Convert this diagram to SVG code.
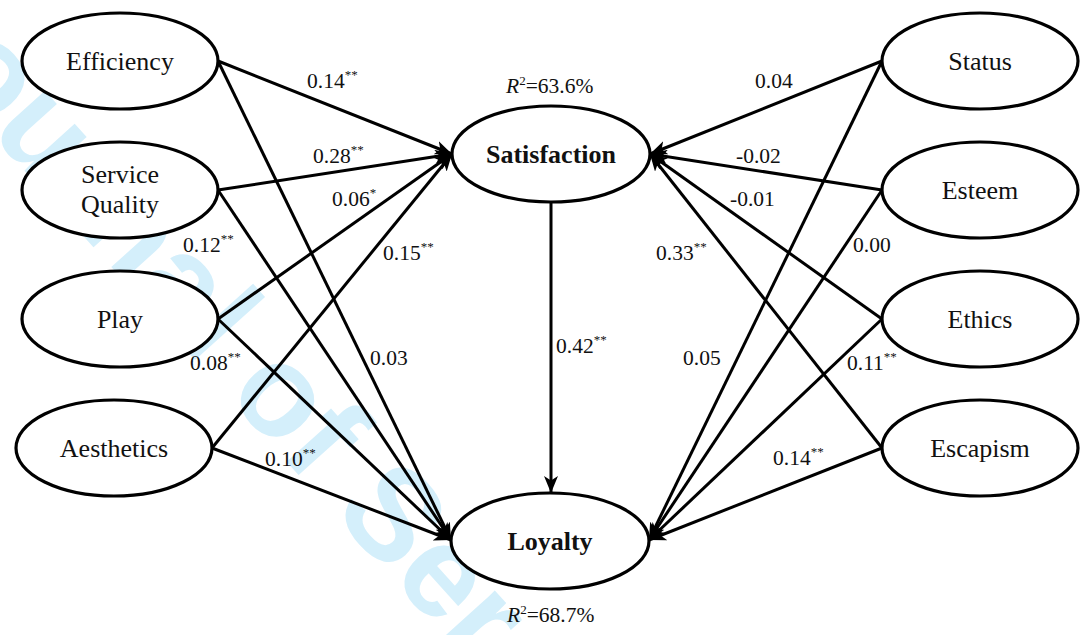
<svg xmlns="http://www.w3.org/2000/svg" width="1086" height="635" viewBox="0 0 1086 635">
<style>
.node ellipse{fill:#fff;stroke:#000;stroke-width:3.2}
.nt,.bt,.lb{font-family:"Liberation Serif","Times New Roman",serif;fill:#111}
.nt{font-size:26px;text-anchor:middle}
.bt{font-size:26px;font-weight:bold;text-anchor:middle}
.lb{font-size:21.5px}
.st{font-size:13px}
#edges line{stroke:#000;stroke-width:3;marker-end:url(#ah)}
.wm{font-family:"Liberation Sans",Arial,sans-serif;font-weight:bold;font-size:130px;fill:#d4effb}
</style>
<defs>
<marker id="ah" markerUnits="userSpaceOnUse" markerWidth="18" markerHeight="14" refX="17" refY="7" orient="auto">
<path d="M0,0 L17,7 L0,14 L4.5,7 Z" fill="#000"/>
</marker>
</defs>
<rect width="1086" height="635" fill="#fff"/>
<g id="watermark">
<text class="wm" x="-113" y="18" transform="rotate(48 -113 18)">Journal of Ser</text>
</g>
<g id="edges">
<line x1="218" y1="61" x2="452" y2="154"/>
<line x1="218" y1="190" x2="452" y2="154"/>
<line x1="218" y1="319" x2="452" y2="154"/>
<line x1="212" y1="448" x2="452" y2="154"/>
<line x1="218" y1="61" x2="451" y2="540"/>
<line x1="218" y1="190" x2="451" y2="540"/>
<line x1="218" y1="319" x2="451" y2="540"/>
<line x1="212" y1="448" x2="451" y2="540"/>
<line x1="882" y1="61" x2="650" y2="154"/>
<line x1="882" y1="190" x2="650" y2="154"/>
<line x1="882" y1="319" x2="650" y2="154"/>
<line x1="882" y1="448" x2="650" y2="154"/>
<line x1="882" y1="61" x2="649" y2="540"/>
<line x1="882" y1="190" x2="649" y2="540"/>
<line x1="882" y1="319" x2="649" y2="540"/>
<line x1="882" y1="448" x2="649" y2="540"/>
<line x1="551" y1="202" x2="551" y2="493"/>
</g>
<g id="efficiency" class="node"><ellipse cx="120" cy="61" rx="98" ry="48"/><text class="nt" x="120" y="70">Efficiency</text></g>
<g id="service-quality" class="node"><ellipse cx="120" cy="190" rx="98" ry="48"/><text class="nt" x="120" y="183">Service</text><text class="nt" x="120" y="213">Quality</text></g>
<g id="play" class="node"><ellipse cx="120" cy="319" rx="98" ry="48"/><text class="nt" x="120" y="328">Play</text></g>
<g id="aesthetics" class="node"><ellipse cx="114" cy="448" rx="98" ry="48"/><text class="nt" x="114" y="457">Aesthetics</text></g>
<g id="satisfaction" class="node"><ellipse cx="551" cy="154" rx="99" ry="48"/><text class="bt" x="551" y="163">Satisfaction</text></g>
<g id="loyalty" class="node"><ellipse cx="550" cy="541" rx="99" ry="48"/><text class="bt" x="550" y="550">Loyalty</text></g>
<g id="status" class="node"><ellipse cx="980" cy="61" rx="98" ry="48"/><text class="nt" x="980" y="70">Status</text></g>
<g id="esteem" class="node"><ellipse cx="980" cy="190" rx="98" ry="48"/><text class="nt" x="980" y="199">Esteem</text></g>
<g id="ethics" class="node"><ellipse cx="980" cy="319" rx="98" ry="48"/><text class="nt" x="980" y="328">Ethics</text></g>
<g id="escapism" class="node"><ellipse cx="980" cy="448" rx="98" ry="48"/><text class="nt" x="980" y="457">Escapism</text></g>
<g id="labels">
<text class="lb" x="307" y="88">0.14<tspan class="st" dy="-9">**</tspan></text>
<text class="lb" x="313" y="163">0.28<tspan class="st" dy="-9">**</tspan></text>
<text class="lb" x="332" y="206">0.06<tspan class="st" dy="-9">*</tspan></text>
<text class="lb" x="183" y="252">0.12<tspan class="st" dy="-9">**</tspan></text>
<text class="lb" x="383" y="260">0.15<tspan class="st" dy="-9">**</tspan></text>
<text class="lb" x="190" y="370">0.08<tspan class="st" dy="-9">**</tspan></text>
<text class="lb" x="370" y="365">0.03</text>
<text class="lb" x="265" y="466">0.10<tspan class="st" dy="-9">**</tspan></text>
<text class="lb" x="506" y="93"><tspan font-style="italic">R</tspan><tspan class="st" dy="-8">2</tspan><tspan dy="8">=63.6%</tspan></text>
<text class="lb" x="556" y="353">0.42<tspan class="st" dy="-9">**</tspan></text>
<text class="lb" x="507" y="622"><tspan font-style="italic">R</tspan><tspan class="st" dy="-8">2</tspan><tspan dy="8">=68.7%</tspan></text>
<text class="lb" x="755" y="88">0.04</text>
<text class="lb" x="736" y="163">-0.02</text>
<text class="lb" x="730" y="206">-0.01</text>
<text class="lb" x="656" y="260">0.33<tspan class="st" dy="-9">**</tspan></text>
<text class="lb" x="853" y="252">0.00</text>
<text class="lb" x="683" y="365">0.05</text>
<text class="lb" x="847" y="370">0.11<tspan class="st" dy="-9">**</tspan></text>
<text class="lb" x="773" y="465">0.14<tspan class="st" dy="-9">**</tspan></text>
</g>
</svg>
